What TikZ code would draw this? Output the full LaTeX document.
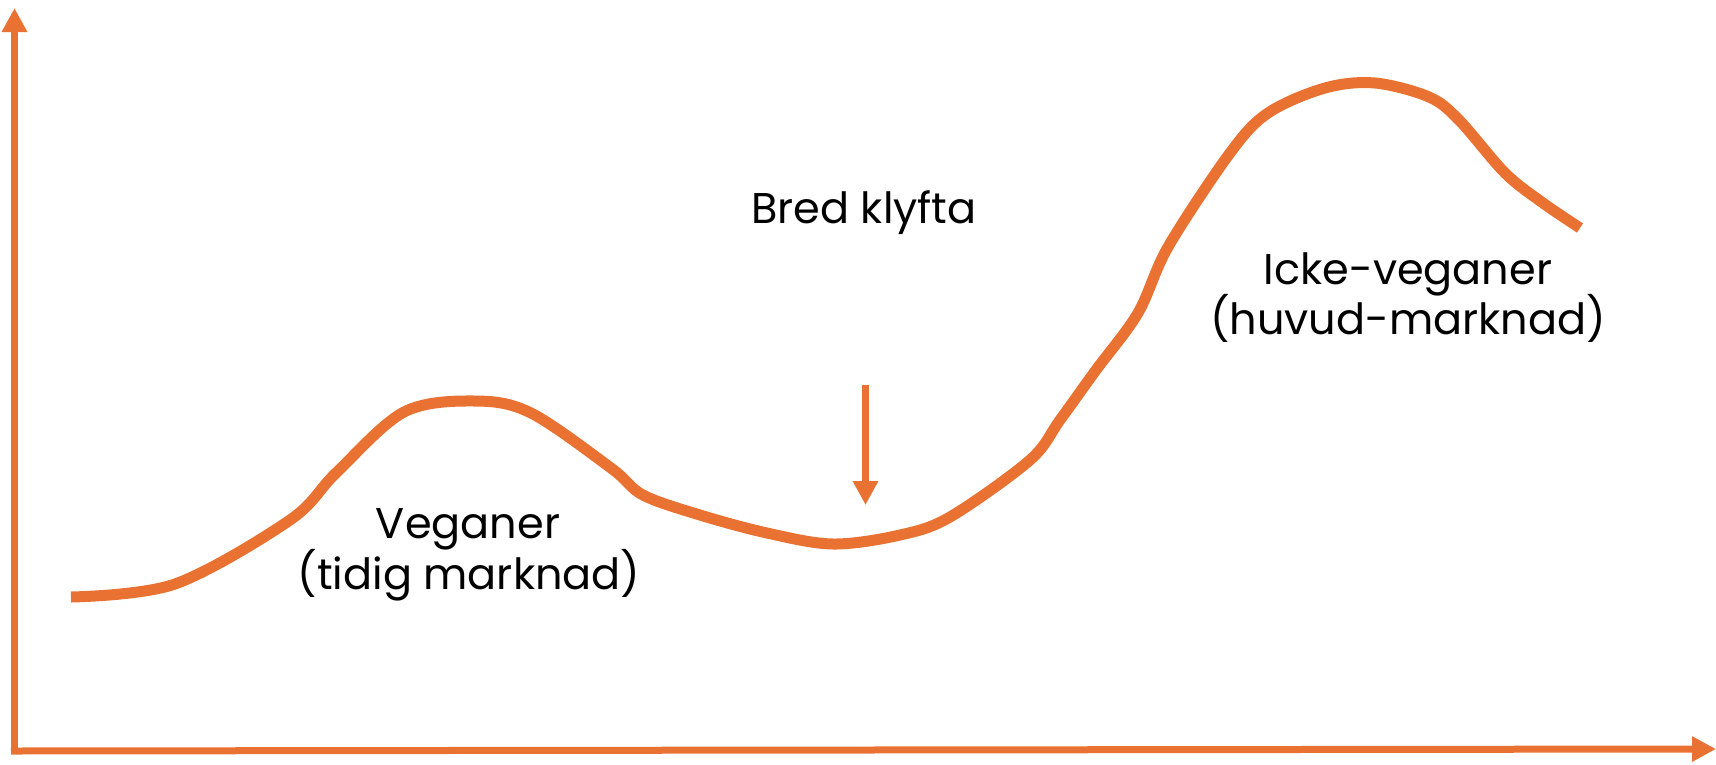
\documentclass[tikz,border=0pt]{standalone}
\usepackage{fontspec}
\setmainfont{Poppins}
\usetikzlibrary{arrows.meta}
\definecolor{curveorange}{HTML}{E97132}
\begin{document}
\begin{tikzpicture}[x=1pt,y=-1pt,
  axisline/.style={draw=curveorange,line width=7pt,-{Triangle[width=24pt,length=24pt]}},
  curveline/.style={draw=curveorange,line width=11pt},
  label/.style={font=\fontsize{43}{52}\selectfont,anchor=base,inner sep=0pt,text=black}]
\useasboundingbox (0,0) rectangle (1716,764);
% axes
\coordinate (ybot) at (14.5,752);
\coordinate (ytop) at (14.5,8);
\coordinate (xleft) at (11,751);
\coordinate (xright) at (1716,749);
\draw[axisline] (ybot) -- (ytop);
\draw[axisline] (xleft) -- (xright);
% curve
\draw[curveline] plot[smooth,tension=0.55] coordinates {
 (71,597) (175,584) (290,520) (336,473) (404,412) (475,401) (531,413)
 (611,468) (643,495) (700,515) (767,533) (833,544) (900,535) (950,517)
 (1030,460) (1060,420) (1096,370) (1138,313) (1168,247) (1230,153)
 (1268,113) (1325,88) (1375,83) (1429,97) (1459,120) (1505,173)
 (1543,203) (1580,228)};
% gap arrow
\coordinate (gaptop) at (865.5,385);
\coordinate (gaptip) at (865.5,505);
\draw[axisline] (gaptop) -- (gaptip);
% labels
\node[label] (gap) at (864,223) {Bred klyfta};
\node[label] (veg1) at (468,538) {Veganer};
\node[label] (veg2) at (469,589) {(tidig marknad)};
\node[label] (nonveg1) at (1408,284) {Icke-veganer};
\node[label] (nonveg2) at (1408,334) {(huvud-marknad)};
\end{tikzpicture}
\end{document}
